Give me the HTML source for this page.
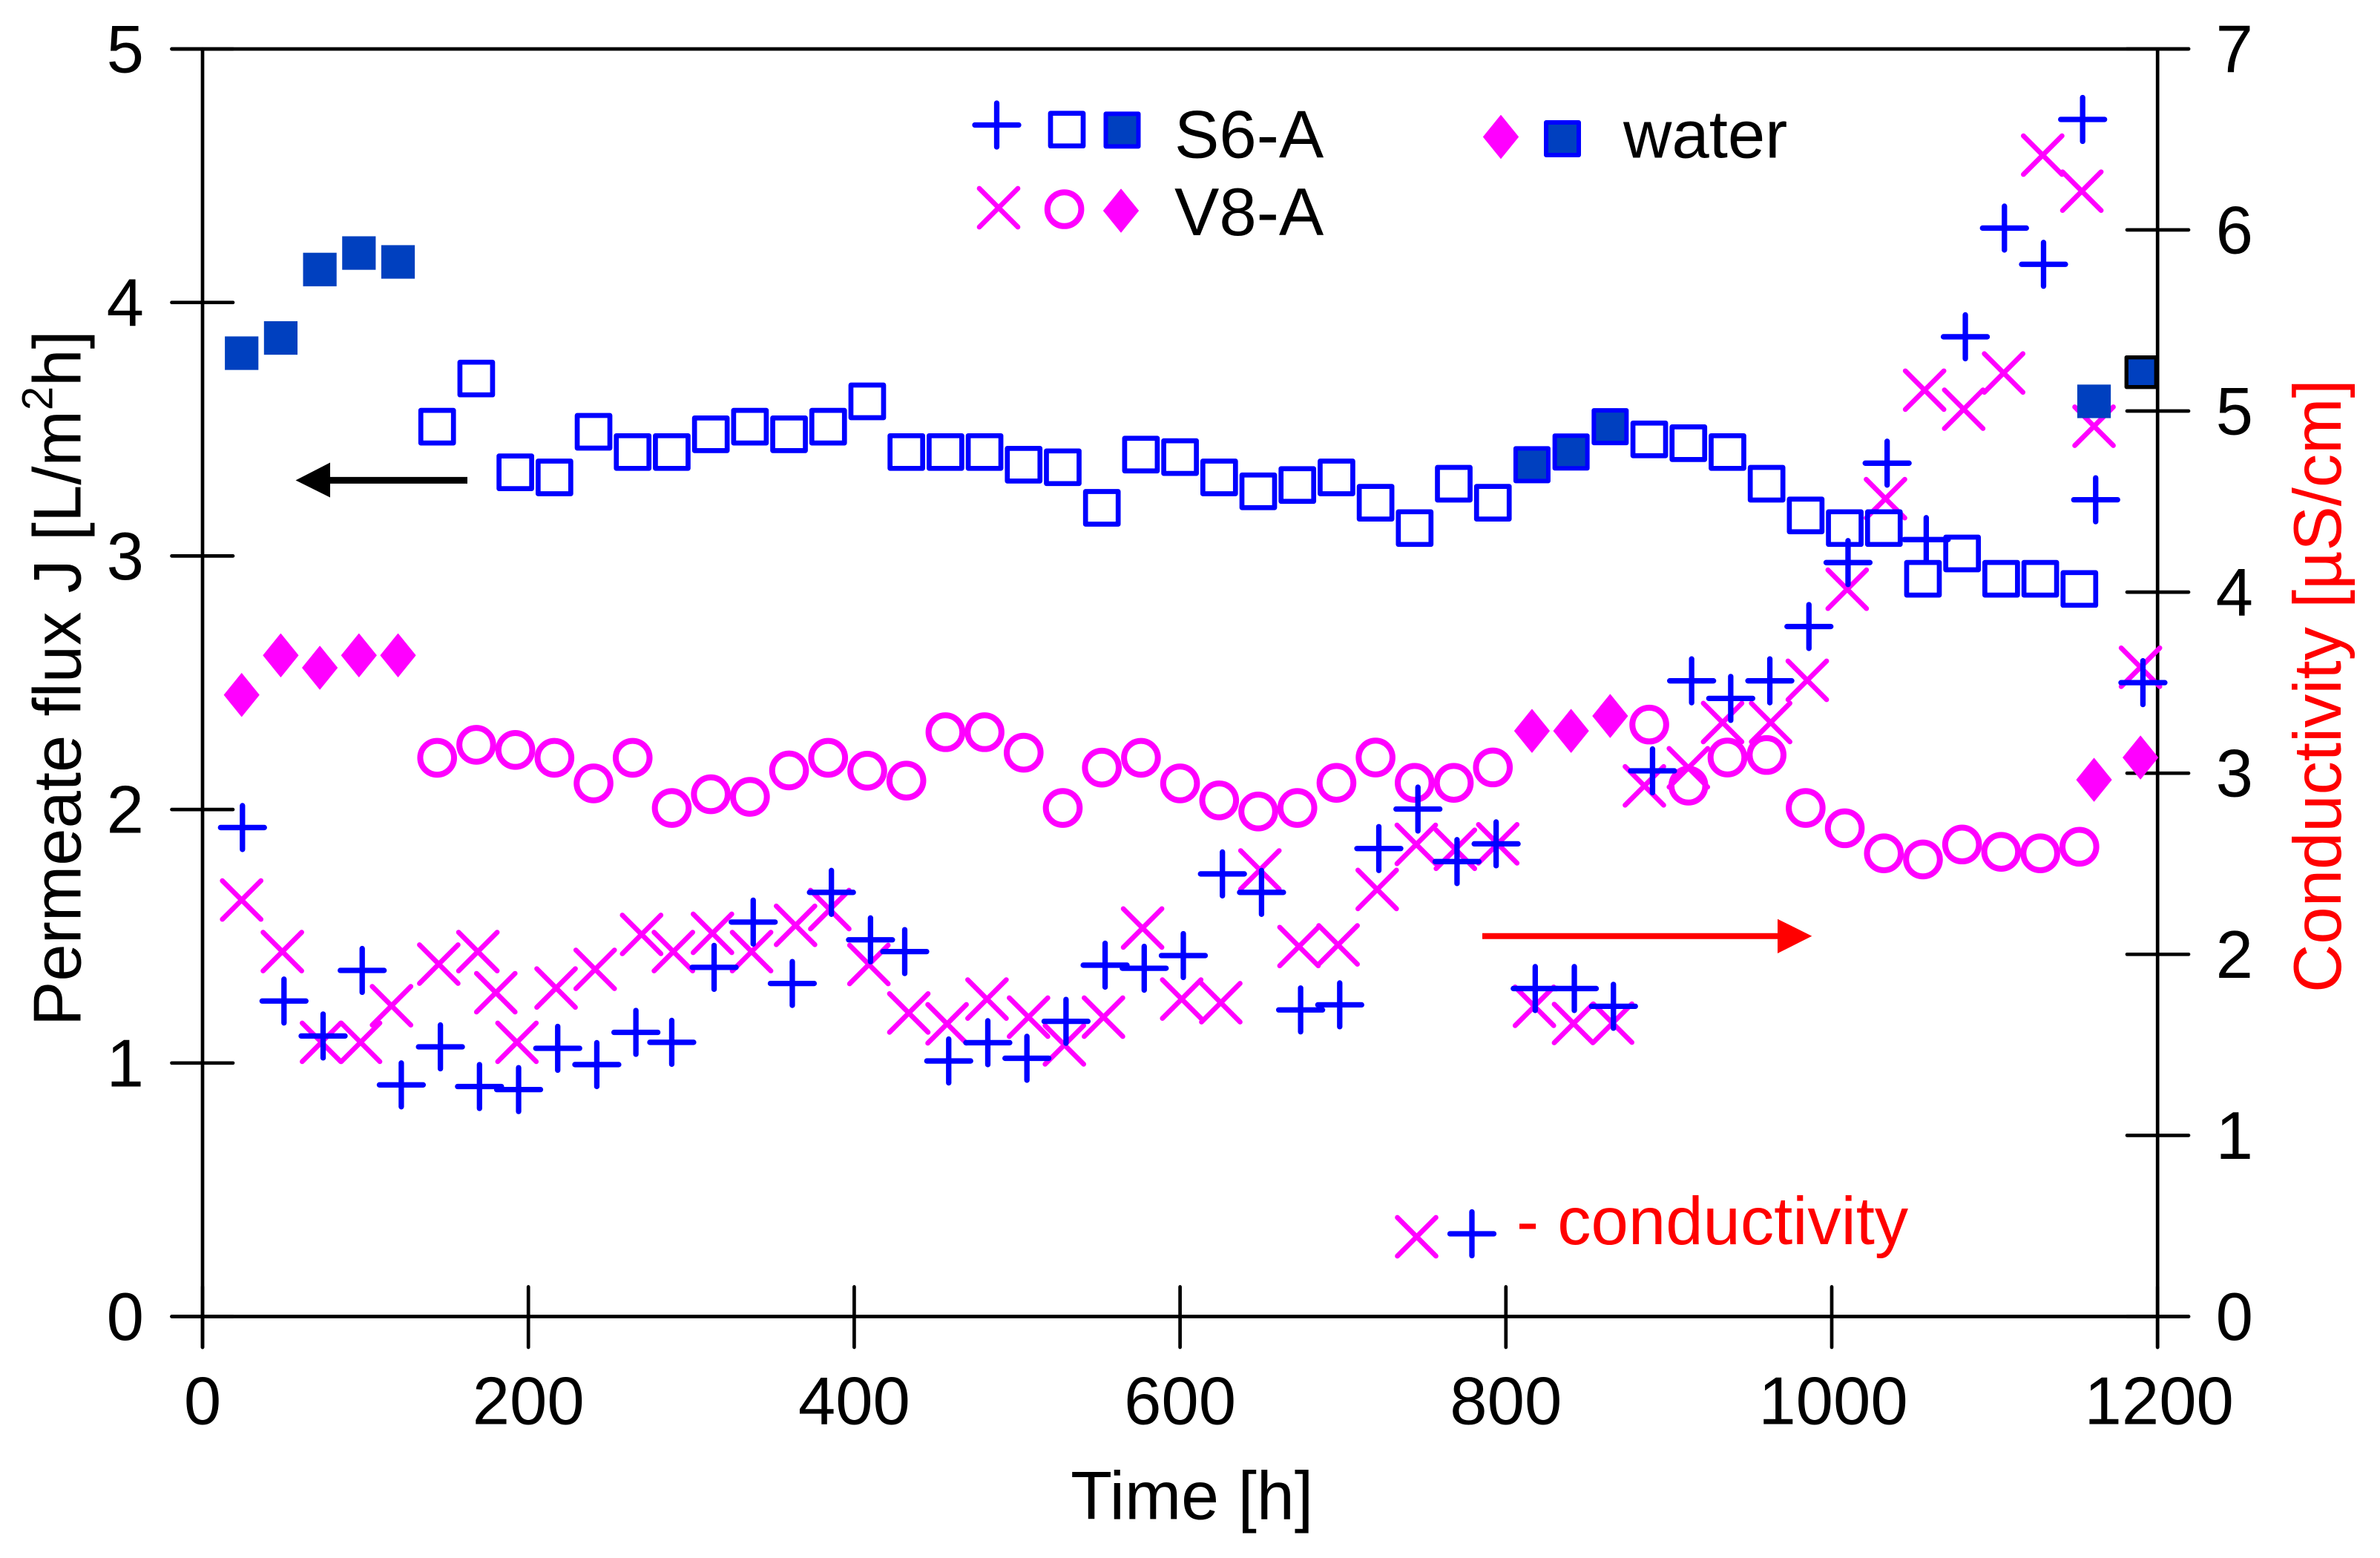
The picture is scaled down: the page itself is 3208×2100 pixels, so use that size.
<!DOCTYPE html>
<html lang="en">
<head>
<meta charset="utf-8">
<title>Permeate flux and conductivity over time</title>
<style>
  html, body { margin: 0; padding: 0; background: #fff; }
  svg { display: block; }
  text { font-family: "Liberation Sans", Arial, sans-serif; font-size: 90.5px; }
</style>
</head>
<body>
<svg id="chart" xmlns="http://www.w3.org/2000/svg" width="3208" height="2100" viewBox="0 0 3208 2100">
  <rect x="0" y="0" width="3208" height="2100" fill="#ffffff"/>
  <g id="axes"></g>
  <g id="marks"></g>

  <text x="1606.7" y="2047.5" text-anchor="middle" style="font-size:91.5px">Time [h]</text>
  <text transform="translate(108.5 1383) rotate(-90)">Permeate flux J [L/m<tspan font-size="58" dy="-38">2</tspan><tspan dy="38">h]</tspan></text>
  <text transform="translate(3155 1338) rotate(-90)" fill="#ff0000">Conductivity [µS/cm]</text>

  <g>
    <g id="legend-marks"></g>
    <text x="1583" y="212.5">S6-A</text>
    <text x="1583" y="317">V8-A</text>
    <text x="2188" y="212.5">water</text>
    <text x="2044" y="1677" fill="#ff0000">- conductivity</text>
  </g>

  <g>
    <line x1="630" y1="647.4" x2="440" y2="647.4" stroke="#000000" stroke-width="9"/>
    <polygon points="398.5,647.4 445,623.5 445,670.5" fill="#000000"/>
  </g>
  <g>
    <line x1="1998" y1="1261.7" x2="2400" y2="1261.7" stroke="#ff0000" stroke-width="8"/>
    <polygon points="2442.3,1261.7 2396,1238.7 2396,1285" fill="#ff0000"/>
  </g>
</svg>

<script>
// ---- tick labels ----
const xTicks = [0, 200, 400, 600, 800, 1000, 1200];
const fluxTicks = [0, 1, 2, 3, 4, 5];
const conductivityTicks = [0, 1, 2, 3, 4, 5, 6, 7];

// ---- flux, open squares (S6-A) ----
const s6FluxTimes = [144, 168, 192, 216, 240, 264, 288, 312, 336, 360, 384, 408, 432, 456, 480, 504, 528, 552, 576, 600, 624, 648, 672, 696, 720, 744, 768, 792, 888, 912, 936, 960, 984, 1008, 1032, 1056, 1080, 1104, 1128, 1152];
const s6FluxValues = [3.51, 3.70, 3.33, 3.31, 3.49, 3.41, 3.41, 3.48, 3.51, 3.48, 3.51, 3.61, 3.41, 3.41, 3.41, 3.36, 3.35, 3.19, 3.40, 3.39, 3.31, 3.255, 3.28, 3.31, 3.21, 3.11, 3.285, 3.21, 3.46, 3.445, 3.41, 3.285, 3.16, 3.11, 3.11, 2.91, 3.01, 2.91, 2.91, 2.87];

// ---- flux, filled squares (water) ----
const waterSquareTimes = [24, 48, 72, 96, 120, 1161];
const waterSquareValues = [3.80, 3.86, 4.13, 4.195, 4.16, 3.61];
const s6WaterTimes = [816, 840, 864];
const s6WaterValues = [3.36, 3.41, 3.51];
const finalWaterTimes = [1190];
const finalWaterValues = [3.725];

// ---- flux, open circles (V8-A) ----
const v8FluxTimes = [144, 168, 192, 216, 240, 264, 288, 312, 336, 360, 384, 408, 432, 456, 480, 504, 528, 552, 576, 600, 624, 648, 672, 696, 720, 744, 768, 792, 888, 912, 936, 960, 984, 1008, 1032, 1056, 1080, 1104, 1128, 1152];
const v8FluxValues = [2.204, 2.255, 2.235, 2.204, 2.103, 2.204, 2.006, 2.06, 2.05, 2.154, 2.204, 2.153, 2.114, 2.305, 2.305, 2.224, 2.006, 2.165, 2.204, 2.103, 2.036, 1.992, 2.006, 2.105, 2.205, 2.105, 2.105, 2.166, 2.335, 2.094, 2.205, 2.215, 2.006, 1.926, 1.827, 1.803, 1.862, 1.833, 1.827, 1.853];

// ---- flux, diamonds (V8-A water) ----
const v8WaterTimes = [24, 48, 72, 96, 120, 816, 840, 864, 1161, 1189.5];
const v8WaterValues = [2.452, 2.608, 2.559, 2.608, 2.608, 2.31, 2.31, 2.369, 2.117, 2.205];

// ---- conductivity, plus signs (S6-A) ----
const s6CondTimes = [24.5, 50, 74, 98, 122, 146, 170, 194, 218, 242, 266, 288, 314, 338, 362, 386, 410, 431, 458, 482, 506, 530, 554, 578, 602, 626, 650, 674, 698, 722, 746, 770, 794, 818, 842, 866, 890, 914, 938, 962, 986, 1010, 1034, 1058, 1082, 1106, 1130, 1154, 1162, 1191];
const s6CondValues = [2.70, 1.742, 1.549, 1.911, 1.279, 1.489, 1.27, 1.253, 1.481, 1.391, 1.569, 1.514, 1.928, 2.178, 1.839, 2.342, 2.08, 2.015, 1.411, 1.512, 1.426, 1.63, 1.94, 1.923, 1.993, 2.444, 2.342, 1.693, 1.721, 2.584, 2.802, 2.512, 2.61, 1.811, 1.811, 1.713, 3.013, 3.51, 3.413, 3.51, 3.81, 4.163, 4.712, 4.29, 5.41, 6.01, 5.81, 6.61, 4.51, 3.5];

// ---- conductivity, crosses (V8-A) ----
const v8CondTimes = [24, 49, 73, 97, 116, 145, 169, 180, 193, 217, 241, 269.5, 289, 313, 337, 364, 385, 409, 433.5, 457, 481.5, 507, 529, 553, 577, 601, 625, 649, 673, 697, 721, 745, 769, 795, 817.5, 841.5, 865.5, 885, 912, 933, 962.5, 985, 1009.5, 1033, 1057, 1081, 1105.5, 1129.5, 1153.5, 1161, 1189.5];
const v8CondValues = [2.30, 2.015, 1.514, 1.514, 1.716, 1.946, 2.015, 1.788, 1.514, 1.814, 1.917, 2.11, 2.015, 2.116, 2.015, 2.16, 2.247, 1.944, 1.676, 1.616, 1.753, 1.653, 1.50, 1.653, 2.145, 1.753, 1.733, 2.466, 2.043, 2.052, 2.358, 2.607, 2.58, 2.61, 1.713, 1.618, 1.62, 2.93, 3.03, 3.28, 3.28, 3.513, 4.016, 4.516, 5.115, 5.01, 5.21, 6.413, 6.214, 4.916, 3.585];

// ---- scales ----
const X0 = 273, XPX = 2.196;
const Y0 = 1774.5, FLUXPX = 341.7, CONDPX = 244.1;
function xScale(t) { return X0 + t * XPX; }
function yFlux(v) { return Y0 - v * FLUXPX; }
function yCond(v) { return Y0 - v * CONDPX; }

const NS = 'http://www.w3.org/2000/svg';
const BLUE = '#0000ff', MAGENTA = '#ff00ff', FILL = '#0040bf';
const axes = document.getElementById('axes');
const marks = document.getElementById('marks');
const legendMarks = document.getElementById('legend-marks');

function make(tag, props, parent) {
  const e = document.createElementNS(NS, tag);
  for (const k in props) e.setAttribute(k, props[k]);
  parent.appendChild(e);
  return e;
}

function axisLine(parent, name, x1, y1, x2, y2) {
  const el = make('line', { x1: x1, y1: y1, x2: x2, y2: y2, stroke: '#000000', 'stroke-width': 4.7, 'stroke-linecap': 'round' }, parent);
  
  
  return el;
}

function label(parent, name, x, y, anchor, str) {
  const el = make('text', { x: x, y: y, 'text-anchor': anchor }, parent);
  el.textContent = str;
  
  
  return el;
}

// ---- axes ----
const left = xScale(0), right = xScale(1200), top5 = yFlux(5), bottom = yFlux(0);
axisLine(axes, 'left-axis-line', left, top5, left, 1816);
axisLine(axes, 'right-axis-line', right, top5, right, 1816);
axisLine(axes, 'top-axis-line', 231.5, top5, 2950, top5);
axisLine(axes, 'bottom-axis-line', 231.5, bottom, 2950, bottom);

xTicks.forEach(function (t) {
  axisLine(axes, 'x-tick', xScale(t), 1734.5, xScale(t), 1816);
  label(axes, 'x-tick-label', xScale(t) + (t >= 1000 ? 2 : 0), 1919.5, 'middle', String(t));
});
fluxTicks.forEach(function (v) {
  axisLine(axes, 'left-y-tick', 231.5, yFlux(v), 314, yFlux(v));
  label(axes, 'left-y-tick-label', 194, yFlux(v) + 31.5, 'end', String(v));
});
conductivityTicks.forEach(function (v) {
  axisLine(axes, 'right-y-tick', 2867, yCond(v), 2950, yCond(v));
  label(axes, 'right-y-tick-label', 3037, yCond(v) + 31.5, 'end', String(v));
});

// ---- marker shapes ----
function drawPlus(parent, cx, cy) {
  const r = 29.5;
  return make('path', { d: 'M' + (cx - r) + ' ' + cy + 'H' + (cx + r) + 'M' + cx + ' ' + (cy - r) + 'V' + (cy + r), fill: 'none', stroke: BLUE, 'stroke-width': 7.3, 'stroke-linecap': 'round' }, parent);
}
function drawCross(parent, cx, cy) {
  const r = 26;
  return make('path', { d: 'M' + (cx - r) + ' ' + (cy - r) + 'L' + (cx + r) + ' ' + (cy + r) + 'M' + (cx - r) + ' ' + (cy + r) + 'L' + (cx + r) + ' ' + (cy - r), fill: 'none', stroke: MAGENTA, 'stroke-width': 6.7, 'stroke-linecap': 'round' }, parent);
}
function drawCircle(parent, cx, cy) {
  return make('circle', { cx: cx, cy: cy, r: 22.8, fill: 'none', stroke: MAGENTA, 'stroke-width': 8 }, parent);
}
function drawOpenSquare(parent, cx, cy) {
  return make('rect', { x: cx - 22, y: cy - 22, width: 44, height: 44, fill: 'none', stroke: BLUE, 'stroke-width': 6.7, 'stroke-linejoin': 'round' }, parent);
}
function drawFilledSquare(parent, cx, cy) {
  return make('rect', { x: cx - 22.6, y: cy - 22.6, width: 45.2, height: 45.2, fill: FILL }, parent);
}
function drawOutlinedSquare(parent, cx, cy, strokeColor, side, sw) {
  return make('rect', { x: cx - side / 2, y: cy - side / 2, width: side, height: side, fill: FILL, stroke: strokeColor, 'stroke-width': sw, 'stroke-linejoin': 'round' }, parent);
}
function drawDiamond(parent, cx, cy) {
  const p = [[cx, cy - 29], [cx + 23.5, cy], [cx, cy + 29], [cx - 23.5, cy]].map(function (q) { return q.join(','); }).join(' ');
  return make('polygon', { points: p, fill: MAGENTA, stroke: MAGENTA, 'stroke-width': 1, 'stroke-linejoin': 'round' }, parent);
}

// ---- series (bottom to top) ----
v8CondTimes.forEach(function (t, i) {
  const el = drawCross(marks, xScale(t), yCond(v8CondValues[i]));
  
  
});
v8FluxTimes.forEach(function (t, i) {
  const el = drawCircle(marks, xScale(t), yFlux(v8FluxValues[i]));
  
  
});
v8WaterTimes.forEach(function (t, i) {
  const el = drawDiamond(marks, xScale(t), yFlux(v8WaterValues[i]));
  
  
});
s6FluxTimes.forEach(function (t, i) {
  const el = drawOpenSquare(marks, xScale(t), yFlux(s6FluxValues[i]));
  
  
});
s6WaterTimes.forEach(function (t, i) {
  const el = drawOutlinedSquare(marks, xScale(t), yFlux(s6WaterValues[i]), BLUE, 44, 6);
  
  
});
s6CondTimes.forEach(function (t, i) {
  const el = drawPlus(marks, xScale(t), yCond(s6CondValues[i]));
  
  
});
waterSquareTimes.forEach(function (t, i) {
  const el = drawFilledSquare(marks, xScale(t), yFlux(waterSquareValues[i]));
  
  
});
finalWaterTimes.forEach(function (t, i) {
  const el = drawOutlinedSquare(marks, xScale(t), yFlux(finalWaterValues[i]), '#000000', 40, 5.3);
  
  
});

// ---- legend symbols ----
let sym;
sym = drawPlus(legendMarks, 1343.5, 168.5);


sym = drawOpenSquare(legendMarks, 1438, 174.7);


sym = drawOutlinedSquare(legendMarks, 1512.5, 175.4, BLUE, 44, 6);


sym = drawCross(legendMarks, 1346, 280);


sym = drawCircle(legendMarks, 1434.6, 282);


sym = drawDiamond(legendMarks, 1511, 284);


sym = drawDiamond(legendMarks, 2023, 184.5);


sym = drawOutlinedSquare(legendMarks, 2106, 187, BLUE, 44, 6);


sym = drawCross(legendMarks, 1909.5, 1667);


sym = drawPlus(legendMarks, 1984, 1663);


</script>
</body>
</html>
